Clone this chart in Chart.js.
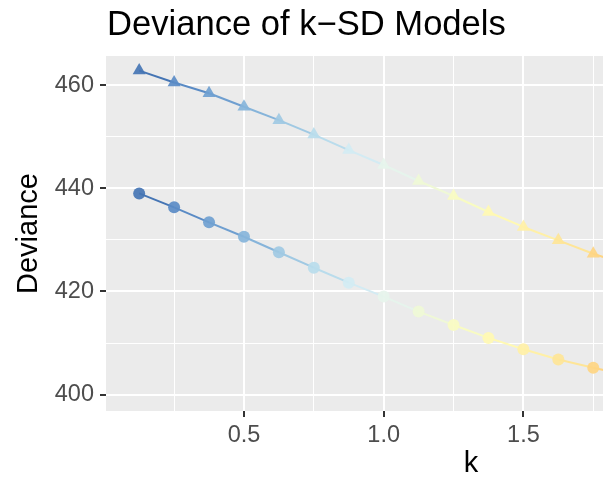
<!DOCTYPE html>
<html>
<head>
<meta charset="utf-8">
<script src="https://cdn.jsdelivr.net/npm/chart.js@4"></script>
<style>
  html, body { margin: 0; padding: 0; background: #fff; }
  #wrap { width: 603px; height: 479px; overflow: hidden; position: relative; }
</style>
</head>
<body>
<div id="wrap">
  <canvas id="myChart" width="846" height="479"></canvas>
</div>
<script>
// values
const kValues = [0.125, 0.25, 0.375, 0.5, 0.625, 0.75, 0.875, 1.0, 1.125, 1.25, 1.375, 1.5, 1.625, 1.75, 1.875];
const devianceTriangle = [462.8, 460.5, 458.4, 455.8, 453.2, 450.4, 447.4, 444.5, 441.4, 438.5, 435.4, 432.5, 429.9, 427.3, 425.1];
const devianceCircle = [439.0, 436.3, 433.4, 430.6, 427.6, 424.6, 421.7, 419.0, 416.1, 413.5, 411.0, 408.8, 406.8, 405.2, 403.7];
const pointColors = ['#4575b4', '#5a8bc5', '#6f9fd0', '#86b4da', '#a0c9e3', '#b9dcec', '#d3ebf3', '#e6f4ec',
                     '#eff8d6', '#f8fbc2', '#fff9b3', '#fff0a6', '#fee597', '#fed582', '#fdc777'];
const xTicks = [0.25, 0.5, 0.75, 1.0, 1.25, 1.5, 1.75, 2.0, 2.25, 2.5];
const yTicks = [400, 410, 420, 430, 440, 450, 460];

function withAlpha(hex, a) {
    const n = parseInt(hex.slice(1), 16);
    return `rgba(${(n >> 16) & 255}, ${(n >> 8) & 255}, ${n & 255}, ${a})`;
}

const panelBg = {
    id: 'panelBg',
    beforeDraw(chart) {
        const {ctx, chartArea: a} = chart;
        ctx.save();
        ctx.fillStyle = '#ebebeb';
        ctx.fillRect(a.left, a.top, a.right - a.left, a.bottom - a.top);
        ctx.restore();
    }
};

const plotTitle = {
    id: 'plotTitle',
    afterDraw(chart) {
        const ctx = chart.ctx;
        ctx.save();
        ctx.font = '34.6px "Liberation Sans", Arial, sans-serif';
        ctx.fillStyle = '#000';
        ctx.textBaseline = 'alphabetic';
        ctx.textAlign = 'left';
        ctx.fillText('Deviance of k\u2212SD Models', chart.chartArea.left + 1, 35);
        ctx.restore();
    }
};

function makeSet(label, values, style, radius) {
    return {
        label: label,
        data: kValues.map((k, i) => ({x: k, y: values[i]})),
        pointStyle: style,
        pointRadius: radius,
        pointBorderWidth: 0,
        pointBackgroundColor: pointColors.map(c => withAlpha(c, 0.92)),
        borderWidth: 2,
        segment: { borderColor: ctx => pointColors[ctx.p0DataIndex] },
        borderColor: pointColors[0]
    };
}

const tickFont = { family: '"Liberation Sans", Arial, sans-serif', size: 23.5 };
const axisTitleFont = { family: '"Liberation Sans", Arial, sans-serif', size: 29, lineHeight: 1.0 };

new Chart(document.getElementById('myChart').getContext('2d'), {
    type: 'line',
    data: {
        datasets: [
            makeSet('triangle', devianceTriangle, 'triangle', 7.5),
            makeSet('circle', devianceCircle, 'circle', 6)
        ]
    },
    options: {
        responsive: false,
        animation: false,
        layout: { padding: { top: 56, right: 10, left: 0, bottom: 0 } },
        plugins: { legend: { display: false }, tooltip: { enabled: false } },
        scales: {
            x: {
                type: 'linear',
                min: 0.00625,
                max: 2.61875,
                afterBuildTicks: s => { s.ticks = xTicks.map(v => ({value: v})); },
                afterFit: s => { s.height = 68; },
                border: { display: false },
                grid: {
                    color: '#ffffff',
                    lineWidth: c => (Math.abs(c.tick.value * 2 - Math.round(c.tick.value * 2)) < 1e-6 ? 2 : 1),
                    tickColor: c => (Math.abs(c.tick.value * 2 - Math.round(c.tick.value * 2)) < 1e-6 ? '#333333' : 'rgba(0,0,0,0)'),
                    tickLength: 6,
                    tickWidth: 2
                },
                ticks: {
                    color: '#4d4d4d',
                    font: tickFont,
                    padding: 4,
                    maxRotation: 0,
                    autoSkip: false,
                    callback: v => (Math.abs(v * 2 - Math.round(v * 2)) < 1e-6 ? v.toFixed(1) : '')
                },
                title: { display: true, text: 'k', color: '#000', font: axisTitleFont, padding: { top: 0, bottom: 1 } }
            },
            y: {
                min: 396.83,
                max: 465.63,
                afterBuildTicks: s => { s.ticks = yTicks.map(v => ({value: v})); },
                afterFit: s => { s.width = 106; },
                border: { display: false },
                grid: {
                    color: '#ffffff',
                    lineWidth: c => (c.tick.value % 20 === 0 ? 2 : 1),
                    tickColor: c => (c.tick.value % 20 === 0 ? '#333333' : 'rgba(0,0,0,0)'),
                    tickLength: 6,
                    tickWidth: 2
                },
                ticks: {
                    color: '#4d4d4d',
                    font: tickFont,
                    padding: 6,
                    autoSkip: false,
                    callback: v => (v % 20 === 0 ? String(v) : '')
                },
                title: { display: true, text: 'Deviance', color: '#000', font: axisTitleFont, padding: { top: 14, bottom: 0 } }
            }
        }
    },
    plugins: [panelBg, plotTitle]
});
</script>
</body>
</html>
